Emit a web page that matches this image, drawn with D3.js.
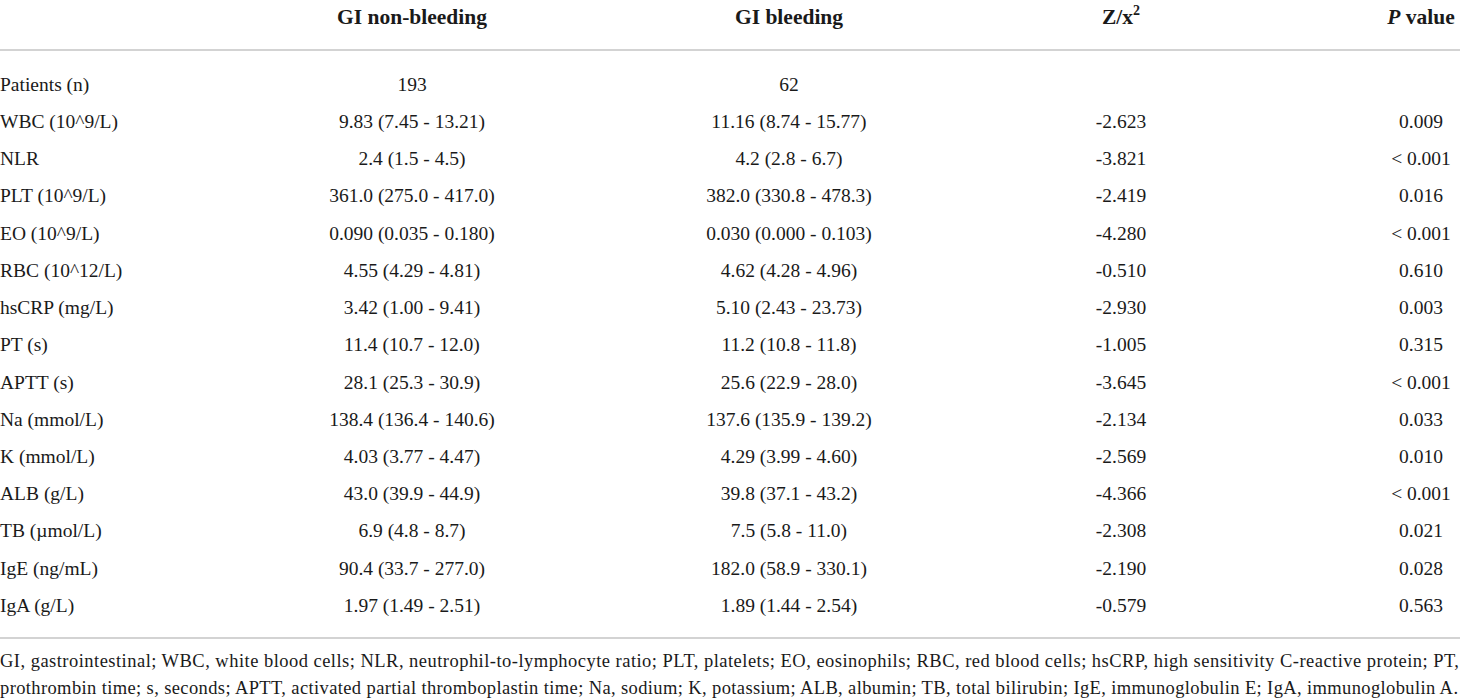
<!DOCTYPE html>
<html>
<head>
<meta charset="utf-8">
<script src="https://cdn.jsdelivr.net/npm/d3@7"></script>
<style>
  body { margin: 0; background: #fff; }
  svg text { font-family: "Liberation Serif", "Times New Roman", serif; fill: #1a1a1a; }
</style>
</head>
<body>
<div class="table-container"></div>
<script>
// table data
const labels = ["Patients (n)", "WBC (10^9/L)", "NLR", "PLT (10^9/L)", "EO (10^9/L)", "RBC (10^12/L)",
  "hsCRP (mg/L)", "PT (s)", "APTT (s)", "Na (mmol/L)", "K (mmol/L)", "ALB (g/L)", "TB (\u00b5mol/L)",
  "IgE (ng/mL)", "IgA (g/L)"];
const nonBleeding = ["193", "9.83 (7.45 - 13.21)", "2.4 (1.5 - 4.5)", "361.0 (275.0 - 417.0)",
  "0.090 (0.035 - 0.180)", "4.55 (4.29 - 4.81)", "3.42 (1.00 - 9.41)", "11.4 (10.7 - 12.0)",
  "28.1 (25.3 - 30.9)", "138.4 (136.4 - 140.6)", "4.03 (3.77 - 4.47)", "43.0 (39.9 - 44.9)",
  "6.9 (4.8 - 8.7)", "90.4 (33.7 - 277.0)", "1.97 (1.49 - 2.51)"];
const bleeding = ["62", "11.16 (8.74 - 15.77)", "4.2 (2.8 - 6.7)", "382.0 (330.8 - 478.3)",
  "0.030 (0.000 - 0.103)", "4.62 (4.28 - 4.96)", "5.10 (2.43 - 23.73)", "11.2 (10.8 - 11.8)",
  "25.6 (22.9 - 28.0)", "137.6 (135.9 - 139.2)", "4.29 (3.99 - 4.60)", "39.8 (37.1 - 43.2)",
  "7.5 (5.8 - 11.0)", "182.0 (58.9 - 330.1)", "1.89 (1.44 - 2.54)"];
const zStat = ["", "-2.623", "-3.821", "-2.419", "-4.280", "-0.510", "-2.930", "-1.005", "-3.645",
  "-2.134", "-2.569", "-4.366", "-2.308", "-2.190", "-0.579"];
const pValue = ["", "0.009", "< 0.001", "0.016", "< 0.001", "0.610", "0.003", "0.315", "< 0.001",
  "0.033", "0.010", "< 0.001", "0.021", "0.028", "0.563"];
const columns = ["nonBleeding", "bleeding", "z", "p"];
const footnotes = [
  "GI, gastrointestinal; WBC, white blood cells; NLR, neutrophil-to-lymphocyte ratio; PLT, platelets; EO, eosinophils; RBC, red blood cells; hsCRP, high sensitivity C-reactive protein; PT,",
  "prothrombin time; s, seconds; APTT, activated partial thromboplastin time; Na, sodium; K, potassium; ALB, albumin; TB, total bilirubin; IgE, immunoglobulin E; IgA, immunoglobulin A."
];

const w = 1460;
const h = 699;

const svg = d3.select(".table-container")
  .append("svg")
  .attr("width", w)
  .attr("height", h);

// row and column scales
const yScale = d3.scalePoint()
  .domain(labels)
  .range([84, 605]);

const xScale = d3.scaleOrdinal()
  .domain(columns)
  .range([412, 789, 1121, 1421]);

const colData = {nonBleeding: nonBleeding, bleeding: bleeding, z: zStat, p: pValue};

// header
const header = svg.append("g")
  .attr("font-size", 21.5)
  .attr("font-weight", "bold");

header.append("text")
  .attr("x", xScale("nonBleeding"))
  .attr("y", 24)
  .attr("text-anchor", "middle")
  .text("GI non-bleeding");

header.append("text")
  .attr("x", xScale("bleeding"))
  .attr("y", 24)
  .attr("text-anchor", "middle")
  .text("GI bleeding");

const zHead = header.append("text")
  .attr("x", xScale("z"))
  .attr("y", 24)
  .attr("text-anchor", "middle");
zHead.append("tspan").text("Z/x");
zHead.append("tspan")
  .attr("dy", -9)
  .attr("font-size", 14)
  .text("2");

const pHead = header.append("text")
  .attr("x", xScale("p"))
  .attr("y", 24)
  .attr("text-anchor", "middle");
pHead.append("tspan").attr("font-style", "italic").text("P");
pHead.append("tspan").text(" value");

// rules
svg.selectAll("line.rule")
  .data([50, 638])
  .enter()
  .append("line")
  .attr("class", "rule")
  .attr("x1", 0)
  .attr("x2", w)
  .attr("y1", d => d)
  .attr("y2", d => d)
  .attr("stroke", "#c4c4c4")
  .attr("stroke-width", 1.5);

// body rows
const body = svg.append("g").attr("font-size", 19.5);

body.selectAll("text.label")
  .data(labels)
  .enter()
  .append("text")
  .attr("class", "label")
  .attr("x", 0)
  .attr("y", d => yScale(d))
  .attr("dy", "0.35em")
  .text(d => d);

columns.forEach(function (c) {
  body.selectAll("text.cell-" + c)
    .data(colData[c])
    .enter()
    .append("text")
    .attr("class", "cell-" + c)
    .attr("x", xScale(c))
    .attr("y", (d, i) => yScale(labels[i]))
    .attr("dy", "0.35em")
    .attr("text-anchor", "middle")
    .text(d => d);
});

// footnote
svg.selectAll("text.foot")
  .data(footnotes)
  .enter()
  .append("text")
  .attr("class", "foot")
  .attr("x", 0)
  .attr("y", (d, i) => 667 + i * 27)
  .attr("font-size", 18.5)
  .attr("textLength", (d, i) => i === 0 ? 1459 : 1458)
  .attr("lengthAdjust", "spacing")
  .text(d => d);
</script>
</body>
</html>
